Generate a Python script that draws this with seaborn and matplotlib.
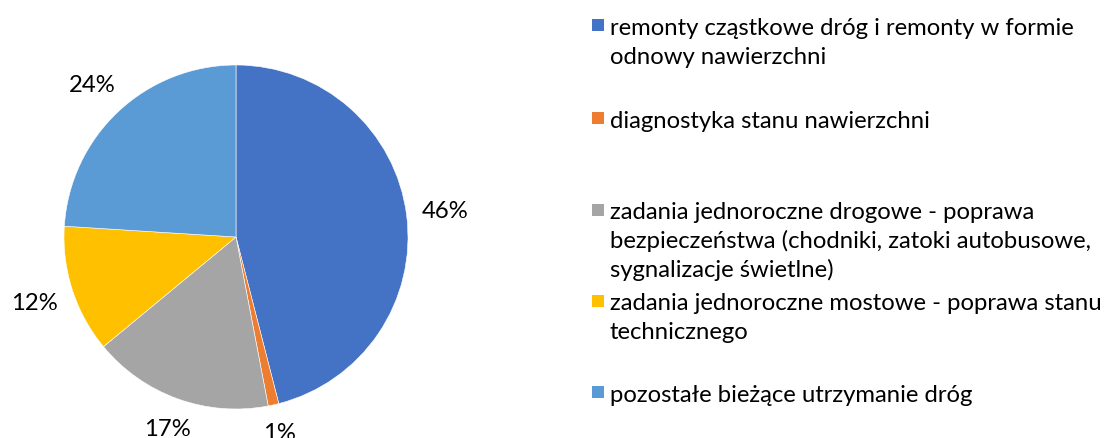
import matplotlib
matplotlib.use("Agg")
import matplotlib.pyplot as plt
import seaborn as sns
import numpy as np
from matplotlib.patches import Rectangle

# Data
categories = [
    "remonty cząstkowe dróg i remonty w formie\nodnowy nawierzchni",
    "diagnostyka stanu nawierzchni",
    "zadania jednoroczne drogowe - poprawa\nbezpieczeństwa (chodniki, zatoki autobusowe,\nsygnalizacje świetlne)",
    "zadania jednoroczne mostowe - poprawa stanu\ntechnicznego",
    "pozostałe bieżące utrzymanie dróg",
]
shares = [46, 1, 17, 12, 24]
colors = ["#4472C4", "#ED7D31", "#A5A5A5", "#FFC000", "#5B9BD5"]

sns.set_theme(style="white")
plt.rcParams["font.family"] = ["Lato", "DejaVu Sans"]

FS = 17.2
W, H = 1107, 439
fig = plt.figure(figsize=(W / 100, H / 100), dpi=100)
fig.patch.set_facecolor("white")

# Pie placement (pixels)
R = 172
cx, cy = 236, 238
ax = fig.add_axes([(cx - R) / W, (H - cy - R) / H, 2 * R / W, 2 * R / H])
wedges, _, pcts = ax.pie(
    shares,
    colors=colors,
    startangle=90,
    counterclock=False,
    autopct=lambda p: f"{p:.0f}%",
    pctdistance=1.2,
    wedgeprops=dict(linewidth=0.4, edgecolor="white"),
    textprops=dict(fontsize=FS, color="black"),
)
ax.set_xlim(-1, 1)
ax.set_ylim(-1, 1)
ax.set_aspect("equal")
ax.axis("off")

# Put each percentage label just outside its wedge, keeping a constant gap
fig.canvas.draw()
renderer = fig.canvas.get_renderer()
gap = 14 / R
for w, t in zip(wedges, pcts):
    theta = np.deg2rad((w.theta1 + w.theta2) / 2)
    bb = t.get_window_extent(renderer)
    hw = bb.width / 2 / R
    hh = bb.height / 2 / R
    ext = abs(np.cos(theta)) * hw + abs(np.sin(theta)) * hh
    r = 1 + gap + ext
    t.set_position((r * np.cos(theta), r * np.sin(theta)))
    t.set_ha("center")
    t.set_va("center")

# Legend drawn entry by entry
line_h = 29
marker_cy = [26, 118.5, 210.5, 301.5, 393]
for lbl, col, my in zip(categories, colors, marker_cy):
    fig.patches.append(
        Rectangle((592 / W, (H - my - 6) / H), 12 / W, 12 / H,
                  transform=fig.transFigure, facecolor=col, edgecolor="none")
    )
    for i, line in enumerate(lbl.split("\n")):
        fig.text(610 / W, (H - (my + 9) - i * line_h) / H, line,
                 fontsize=FS, va="baseline", ha="left", color="black")

fig.savefig("out.png", dpi=100)
